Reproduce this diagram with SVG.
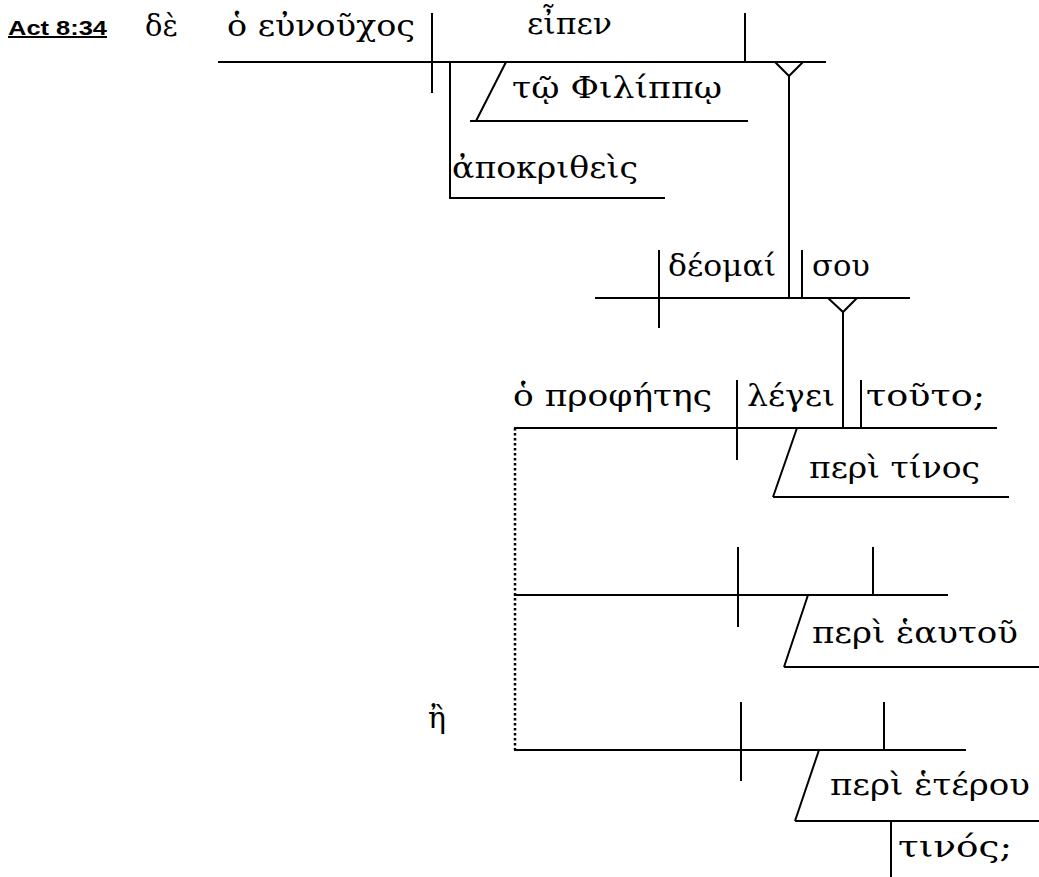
<svg xmlns="http://www.w3.org/2000/svg" width="1039" height="877" viewBox="0 0 1039 877">
<style>
.ln{stroke:#000;stroke-width:2;fill:none}
.dot{stroke:#000;stroke-width:2.5;fill:none;stroke-dasharray:2.5,2.5}
.gk{font-family:"DejaVu Serif","Liberation Serif",serif;font-size:29px;fill:#000}
.ref{font-family:"Liberation Sans",Arial,sans-serif;font-size:20px;font-weight:bold;fill:#000;text-decoration:underline}
</style>
<rect width="1039" height="877" fill="#fff"/>
<g id="ref"><text class="ref" x="8" y="35" textLength="99" lengthAdjust="spacingAndGlyphs">Act 8:34</text></g>
<g id="conj"><text class="gk" x="145" y="36" textLength="33" lengthAdjust="spacingAndGlyphs">δὲ</text></g>
<g id="main-clause">
<path class="ln" d="M218 62H826M432 13V93M745 13V62"/>
<text class="gk" x="227" y="36" textLength="188" lengthAdjust="spacingAndGlyphs">ὁ εὐνοῦχος</text>
<text class="gk" x="527" y="34" textLength="85" lengthAdjust="spacingAndGlyphs">εἶπεν</text>
</g>
<g id="indirect-object">
<path class="ln" d="M506 62L476 121M470 121H748"/>
<text class="gk" x="512" y="98" textLength="210" lengthAdjust="spacingAndGlyphs">τῷ Φιλίππῳ</text>
</g>
<g id="participle">
<path class="ln" d="M450 62V198H665"/>
<text class="gk" x="452" y="178" textLength="186" lengthAdjust="spacingAndGlyphs">ἀποκριθεὶς</text>
</g>
<g id="clause2">
<path class="ln" d="M595 298H910M659 250V328M802 250V298"/>
<text class="gk" x="668" y="276" textLength="108" lengthAdjust="spacingAndGlyphs">δέομαί</text>
<text class="gk" x="812" y="276" textLength="58" lengthAdjust="spacingAndGlyphs">σου</text>
</g>
<g id="clause3">
<path class="ln" d="M514 428H997M737 380V460M861 380V428"/>
<text class="gk" x="513" y="406" textLength="199" lengthAdjust="spacingAndGlyphs">ὁ προφήτης</text>
<text class="gk" x="747" y="406" textLength="88" lengthAdjust="spacingAndGlyphs">λέγει</text>
<text class="gk" x="866" y="406" textLength="119" lengthAdjust="spacingAndGlyphs">τοῦτο;</text>
</g>
<g id="mod-tinos">
<path class="ln" d="M797 428L773 497M773 497H1009"/>
<text class="gk" x="809" y="478" textLength="171" lengthAdjust="spacingAndGlyphs">περὶ τίνος</text>
</g>
<g id="clause4">
<path class="ln" d="M514 595H948M738 547V627M873 547V595"/>
</g>
<g id="mod-heautou">
<path class="ln" d="M808 595L784 667M784 667H1039"/>
<text class="gk" x="812" y="643" textLength="206" lengthAdjust="spacingAndGlyphs">περὶ ἑαυτοῦ</text>
</g>
<g id="conj-e"><text class="gk" x="428" y="728" textLength="18" lengthAdjust="spacingAndGlyphs">ἢ</text></g>
<g id="clause5">
<path class="ln" d="M514 750H966M741 702V781M884 702V750"/>
</g>
<g id="mod-heterou">
<path class="ln" d="M819 750L795 821M795 821H1039"/>
<text class="gk" x="830" y="795" textLength="200" lengthAdjust="spacingAndGlyphs">περὶ ἑτέρου</text>
</g>
<g id="mod-tinos2">
<path class="ln" d="M891 821V877"/>
<text class="gk" x="898" y="857" textLength="114" lengthAdjust="spacingAndGlyphs">τινός;</text>
</g>
<g id="connectors">
<path class="ln" d="M775 62L789 76L803 62M789 76V298"/>
<path class="ln" d="M828 298L843 312L857 298M843 312V428"/>
<path class="dot" d="M515 428V750"/>
</g>
</svg>
